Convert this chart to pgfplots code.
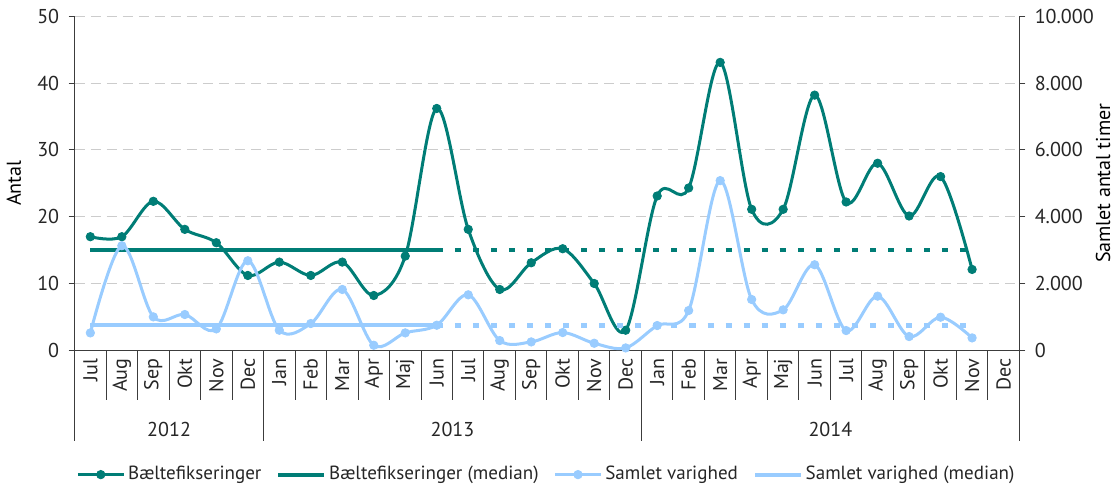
\documentclass[border=0pt]{standalone}
\usepackage{pgfplots}
\pgfplotsset{compat=1.18}
\usepackage{fontspec}
\setmainfont{PT Sans}

\definecolor{teal1}{RGB}{0,125,118}
\definecolor{lblue}{RGB}{153,204,255}
\definecolor{axgray}{RGB}{60,60,60}

\pgfplotstableread{
x y
0 17
1 17
2 22.3
3 18.1
4 16.1
5 11.2
6 13.2
7 11.2
8 13.2
9 8.2
10 14.1
11 36.2
12 18.1
13 9.1
14 13.1
15 15.2
16 10.0
17 3.0
18 23.1
19 24.3
20 43.1
21 21.1
22 21.1
23 38.2
24 22.2
25 28.0
26 20.1
27 26.0
28 12.1
}\belte

\pgfplotstableread{
x y
0 520
1 3130
2 1000
3 1070
4 640
5 2680
6 600
7 800
8 1820
9 150
10 520
11 750
12 1660
13 290
14 250
15 530
16 210
17 70
18 740
19 1190
20 5080
21 1520
22 1210
23 2560
24 590
25 1620
26 410
27 990
28 370
}\varighed

\pgfplotsset{
  base/.style={
    scale only axis, width=471pt, height=166.5pt,
    xmin=-0.5, xmax=29.5, ymin=0,
    clip=false,
    tick label style={font=\fontsize{10}{12}\selectfont, text=black!85},
    yticklabel style={inner sep=4.5pt},
    label style={font=\fontsize{10.5}{12}\selectfont, text=black!85},
    ylabel near ticks,
    /pgf/number format/assume math mode=true,
    /pgf/number format/1000 sep={.},
    scaled y ticks=false,
    tick align=outside,
    major tick length=3pt,
    every tick/.style={axgray, line width=0.5pt},
    axis line style={axgray, line width=0.6pt},
  },
  ser/.style={line width=1.5pt, smooth, tension=0.55, mark=*, mark size=2.1pt, mark options={line width=0.4pt}},
}

\begin{document}
\begin{tikzpicture}
\begin{axis}[base,
  ymax=50, ytick={0,10,...,50},
  axis y line*=left, axis x line*=bottom,
  ymajorgrids, grid style={gray!40, dash pattern=on 5pt off 3pt, line width=0.5pt},
  ylabel={Antal},
  xtick={0,...,29},
  xticklabels={Jul,Aug,Sep,Okt,Nov,Dec,Jan,Feb,Mar,Apr,Maj,Jun,Jul,Aug,Sep,Okt,Nov,Dec,Jan,Feb,Mar,Apr,Maj,Jun,Jul,Aug,Sep,Okt,Nov,Dec},
  xticklabel style={rotate=90, anchor=east, inner sep=1pt},
  major x tick style={draw=none},
]
  \addplot[teal1, line width=2pt, forget plot] coordinates {(0,15) (11,15)};
  \addplot[teal1, line width=2.4pt, dash pattern=on 3pt off 6pt, forget plot] coordinates {(11,15) (28,15)};
  \addplot[teal1, ser, forget plot] table[x=x,y=y] {\belte};

  \pgfplotsinvokeforeach{0,...,28}{
    \draw[axgray, line width=0.5pt] (axis cs:#1.5,0) -- ([yshift=-25pt]axis cs:#1.5,0);
  }
  \pgfplotsinvokeforeach{-0.5,5.5,17.5,29.5}{
    \draw[axgray, line width=0.5pt] (axis cs:#1,0) -- ([yshift=-45pt]axis cs:#1,0);
  }
  \node[font=\fontsize{10}{12}\selectfont, text=black!85] at ([yshift=-39.5pt]axis cs:2.5,0) {2012};
  \node[font=\fontsize{10}{12}\selectfont, text=black!85] at ([yshift=-39.5pt]axis cs:11.5,0) {2013};
  \node[font=\fontsize{10}{12}\selectfont, text=black!85] at ([yshift=-39.5pt]axis cs:23.5,0) {2014};
\end{axis}

\begin{axis}[base,
  ymax=10000, ytick={0,2000,...,10000},
  axis y line*=right, axis x line=none,
  ylabel={Samlet antal timer}, ylabel shift=-7pt,
  legend style={at={(0.5,0)}, anchor=center, yshift=-62pt, draw=none, fill=none, inner sep=0pt,
    nodes={inner sep=1.5pt},
    legend columns=4, font=\fontsize{9.5}{12}\selectfont, text=black!85,
    /tikz/every even column/.append style={column sep=6pt},
    legend image code/.code={\draw[mark repeat=2, mark phase=2] plot coordinates {(0cm,0cm) (0.4cm,0cm) (0.8cm,0cm)};}},
]
  \addlegendimage{teal1, line width=1.5pt, mark=*, mark size=2.1pt, mark options={line width=0.4pt}}
  \addlegendentry{Bæltefikseringer}
  \addlegendimage{teal1, line width=2pt}
  \addlegendentry{Bæltefikseringer (median)}
  \addplot[lblue, line width=2pt, forget plot] coordinates {(0,750) (11,750)};
  \addplot[lblue, line width=2.4pt, dash pattern=on 3pt off 6pt, forget plot] coordinates {(11,750) (28,750)};
  \addplot[lblue, ser] table[x=x,y=y] {\varighed};
  \addlegendentry{Samlet varighed}
  \addlegendimage{lblue, line width=2pt}
  \addlegendentry{Samlet varighed (median)}
\end{axis}
\end{tikzpicture}
\end{document}
